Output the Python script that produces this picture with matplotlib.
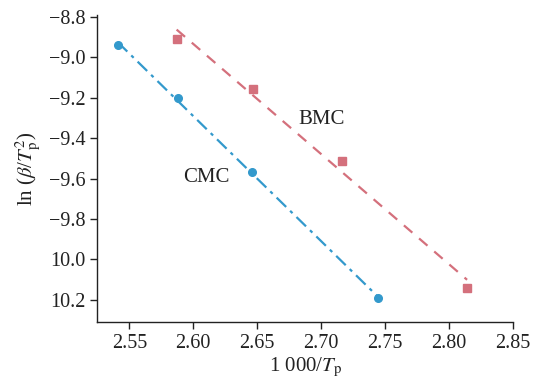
import numpy as np
import matplotlib
matplotlib.use("Agg")
import matplotlib.pyplot as plt

plt.rcParams['font.family'] = ['Liberation Serif', 'DejaVu Serif']
plt.rcParams['mathtext.fontset'] = 'stix'

# data
cmc_x = [2.541, 2.588, 2.646, 2.744]
cmc_y = [-8.94, -9.20, -9.57, -10.19]
bmc_x = [2.587, 2.647, 2.716, 2.814]
bmc_y = [-8.91, -9.155, -9.515, -10.14]

yticks = [-8.8, -9.0, -9.2, -9.4, -9.6, -9.8, -10.0, -10.2]
ytick_labels = ['\u22128.8', '\u22129.0', '\u22129.2', '\u22129.4', '\u22129.6', '\u22129.8', '10.0', '10.2']
xticks = [2.55, 2.60, 2.65, 2.70, 2.75, 2.80, 2.85]

blue = '#3399cc'
pink = '#d4707c'

fig = plt.figure(figsize=(5.39, 3.85), dpi=100)
ax = fig.add_axes([0.1805, 0.164, 0.7715, 0.797])

# linear fits
for xs, ys, c, ls, m in [(cmc_x, cmc_y, blue, (0, (6, 2.5, 1.5, 2.5)), 'o'),
                         (bmc_x, bmc_y, pink, (0, (5, 4)), 's')]:
    k, b = np.polyfit(xs, ys, 1)
    xx = np.array([min(xs), max(xs)])
    ax.plot(xx, k * xx + b, color=c, linestyle=ls, linewidth=1.6)
    ax.plot(xs, ys, linestyle='none', marker=m, color=c, markersize=5.5)

ax.text(2.70, -9.31, 'BMC', fontsize=15, ha='center', va='center', color='#222222')
ax.text(2.610, -9.594, 'CMC', fontsize=15, ha='center', va='center', color='#222222')

ax.set_xlim(2.525, 2.85)
ax.set_ylim(-10.31, -8.79)
ax.set_xticks(xticks)
ax.set_xticklabels(['%.2f' % v for v in xticks])
ax.set_yticks(yticks)
ax.set_yticklabels(ytick_labels)
ax.tick_params(labelsize=14.5, length=5, width=1, direction='out', colors='#222222')

for s in ['top', 'right']:
    ax.spines[s].set_visible(False)
for s in ['left', 'bottom']:
    ax.spines[s].set_linewidth(1)
    ax.spines[s].set_color('#222222')

ax.set_xlabel('1 000/$T_\\mathrm{p}$', fontsize=15, labelpad=2, color='#222222')
ax.set_ylabel('ln ($\\beta$/$T_\\mathrm{p}^2$)', fontsize=15, labelpad=4, color='#222222')

fig.savefig('out.png', dpi=100)
